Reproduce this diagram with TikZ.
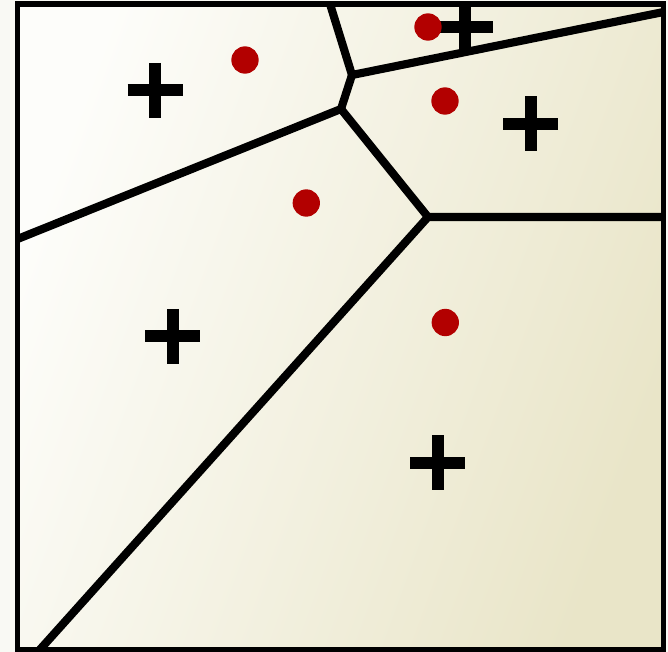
\documentclass[tikz,border=0pt]{standalone}
\begin{document}
\begin{tikzpicture}[x=0.75pt,y=-0.75pt,
  edgeline/.style={line width=6.1pt,black},
  boxline/.style={line width=4.4pt,black},
  plusline/.style={line width=9pt,black,line cap=butt},
  site/.style={circle,fill=dotred,draw=none,minimum size=20.5pt,inner sep=0pt},
  plusmark/.pic={\draw[plusline] (-27.5,0) -- (27.5,0) (0,-27.5) -- (0,27.5);}
]
\definecolor{dotred}{RGB}{178,0,0}
\definecolor{bgout}{RGB}{249,249,244}
\definecolor{lightin}{RGB}{253,253,250}
\definecolor{darkin}{RGB}{233,229,200}
\useasboundingbox (0,0) rectangle (668,652);
\fill[bgout] (0,0) rectangle (668,652);
% corners of the box
\coordinate (tl) at (17.5,4);
\coordinate (br) at (663.5,649.5);
\shade[shading=axis,left color=lightin,right color=darkin,shading angle=70] (tl) rectangle (br);
% Voronoi vertices and border ends
\coordinate (v1) at (352,75);
\coordinate (v2) at (341,109);
\coordinate (v3) at (428,217);
\coordinate (e1) at (330,4);
\coordinate (e2) at (663.5,12);
\coordinate (e3) at (17.5,239);
\coordinate (e4) at (663.5,217);
\coordinate (e5) at (40,649.5);
\begin{scope}
\clip (tl) rectangle (br);
\draw[edgeline] (e1) -- (v1) -- (e2);
\draw[edgeline] (v1) -- (v2) -- (e3);
\draw[edgeline] (v2) -- (v3) -- (e4);
\draw[edgeline] (v3) -- (e5);
\pic at (155,90.5) {plusmark};
\pic at (465,27) {plusmark};
\pic at (530.5,124) {plusmark};
\pic at (172.5,336.5) {plusmark};
\pic at (437.5,462.5) {plusmark};
\node[site] (s1) at (245,60) {};
\node[site] (s2) at (428,27) {};
\node[site] (s3) at (445,101) {};
\node[site] (s4) at (306.3,203) {};
\node[site] (s5) at (445.3,322.5) {};
\end{scope}
\draw[boxline] (tl) rectangle (br);
\end{tikzpicture}
\end{document}
